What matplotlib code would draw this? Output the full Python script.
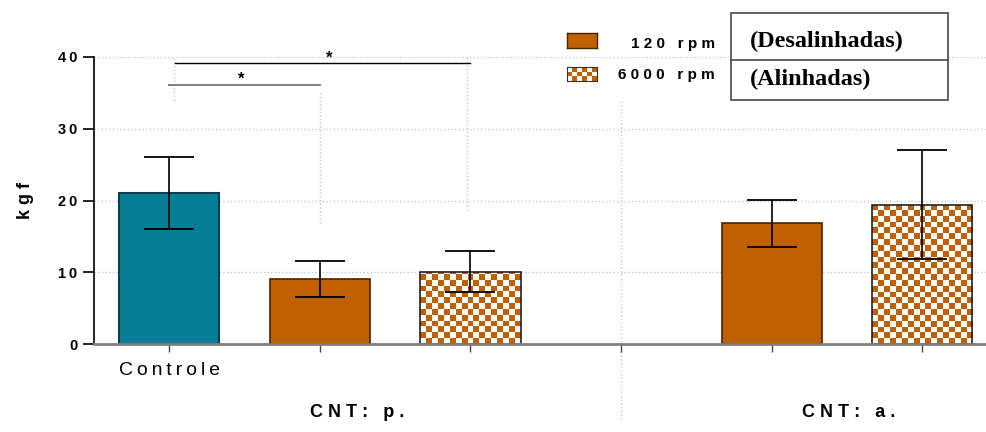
import numpy as np
import matplotlib
matplotlib.use("Agg")
import matplotlib.pyplot as plt
from matplotlib.colors import ListedColormap
from matplotlib.patches import Rectangle
from matplotlib.transforms import blended_transform_factory

# data
positions = [0, 1, 2, 4, 5]
means = [21.0, 9.1, 10.1, 16.8, 19.4]
errors = [5.0, 2.5, 2.9, 3.3, 7.6]
kinds = ["controle", "120", "6000", "120", "6000"]
tick_positions = [0, 1, 2, 3, 4, 5]
tick_labels = ["Controle", "", "", "", "", ""]
yticks = [0, 10, 20, 30, 40]
group_labels = ["CNT: p.", "CNT: a."]
group_pos = [1.25, 4.51]
# (from bar, to bar, height, star x)
brackets = [(0, 1, 36.1, 0.48), (0, 2, 39.1, 1.06)]
legend_labels = ["120 rpm", "6000 rpm"]
box_labels = ["(Desalinhadas)", "(Alinhadas)"]

teal = "#087d96"
teal_edge = "#0b3f4c"
orange = "#c06000"
orange_edge = "#4a2300"
grid_col = "#c8c8c8"

W, H = 987, 432


def spaced(s, sep=" "):
    return sep.join(s)


def fx(px):
    return px / W


def fy(py):
    return 1 - py / H


plt.rcParams["font.family"] = ["Liberation Sans", "DejaVu Sans"]

fig = plt.figure(figsize=(W / 100, H / 100), dpi=100)
ax = fig.add_axes([fx(94), fy(344), fx(987 - 94), (344 - 57) / H])
ax.set_xlim(-0.5, 5.43)
ax.set_ylim(0, 40)

checker_cmap = ListedColormap(["white", orange])
cell_px = 5.8

bars = ax.bar(positions, means, width=0.665, zorder=2)
fig.canvas.draw()
for bar, kind in zip(bars, kinds):
    if kind == "controle":
        bar.set_facecolor(teal)
        bar.set_edgecolor(teal_edge)
        bar.set_linewidth(1.5)
    elif kind == "120":
        bar.set_facecolor(orange)
        bar.set_edgecolor(orange_edge)
        bar.set_linewidth(1.2)
    else:
        bar.set_facecolor("none")
        bar.set_edgecolor("#222222")
        bar.set_linewidth(1.2)
        x0, y0 = bar.get_x(), bar.get_y()
        x1, y1 = x0 + bar.get_width(), y0 + bar.get_height()
        (p0x, p0y), (p1x, p1y) = ax.transData.transform([(x0, y0), (x1, y1)])
        nx = int(round((p1x - p0x) / cell_px))
        ny = int(round((p1y - p0y) / cell_px)) + 1
        yy, xx = np.mgrid[0:ny, 0:nx]
        board = (xx + yy) % 2
        top = y0 + ny * cell_px * (y1 - y0) / (p1y - p0y)
        im = ax.imshow(board, cmap=checker_cmap, extent=(x0, x1, top, y0),
                       interpolation="nearest", aspect="auto", zorder=1.9,
                       origin="upper")
        im.set_clip_path(bar)

ax.set_xlim(-0.5, 5.43)
ax.set_ylim(0, 40)

ax.errorbar(positions, means, yerr=errors, fmt="none", ecolor="black",
            elinewidth=1.2, capsize=18, capthick=1.3, zorder=3)

# grid
ax.yaxis.grid(True, linestyle=":", color=grid_col, linewidth=1, zorder=0)
ax.set_axisbelow(True)
ax.plot([3, 3], [-10.5, 34], linestyle=":", color=grid_col, lw=1,
        clip_on=False, zorder=0)
for xv, ya, yb in [(0.03, 34, 40), (1.0, 16.8, 35.2), (1.98, 18.7, 40)]:
    ax.plot([xv, xv], [ya, yb], linestyle=":", color=grid_col, lw=1, zorder=0)

# significance brackets
for (a, b, h, sx), col, lw in zip(brackets, ["#808080", "black"], [1.4, 1.0]):
    ax.plot([a + (0.04 if b == 2 else 0.0), b], [h, h], color=col, lw=lw,
            zorder=3, clip_on=False)
    ax.text(sx, h + 0.75, "*", ha="center", va="center", fontsize=12,
            fontweight="bold")

# axes styling
for s in ["top", "right"]:
    ax.spines[s].set_visible(False)
ax.spines["left"].set_color("black")
ax.spines["left"].set_linewidth(1.2)
ax.spines["bottom"].set_color("#808080")
ax.spines["bottom"].set_linewidth(2)

ax.set_yticks(yticks)
ax.set_yticklabels([spaced(str(v), "\u2009") for v in yticks],
                   fontsize=10.5, fontweight="bold")
ax.tick_params(axis="y", length=8, width=1.2, color="black", pad=4)
ax.set_xticks(tick_positions)
ax.set_xticklabels([spaced(t, "\u2009") for t in tick_labels], fontsize=14)
ax.tick_params(axis="x", length=6, width=1, color="#444444", pad=7)

ax.set_ylabel(spaced("kgf"), fontsize=13, fontweight="bold")
ax.yaxis.set_label_coords(-0.067, 0.5)

trans = blended_transform_factory(ax.transData, ax.transAxes)
for lab, xp in zip(group_labels, group_pos):
    ax.text(xp, -0.24, spaced(lab), transform=trans, ha="center",
            va="center", fontsize=13, fontweight="bold")

# legend swatches
sw = fig.add_axes([fx(567), fy(48), fx(30), 15 / H])
sw.set_xticks([])
sw.set_yticks([])
sw.set_facecolor(orange)
for s in sw.spines.values():
    s.set_color(orange_edge)
    s.set_linewidth(1)
sw2 = fig.add_axes([fx(567), fy(81), fx(30), 14 / H])
yy, xx = np.mgrid[0:3, 0:6]
sw2.imshow((xx + yy) % 2, cmap=checker_cmap, aspect="auto",
           interpolation="nearest")
sw2.set_xticks([])
sw2.set_yticks([])
for s in sw2.spines.values():
    s.set_color("#333333")
    s.set_linewidth(0.8)

for lab, yc in zip(legend_labels, [44, 75]):
    fig.text(fx(715), fy(yc), spaced(lab), ha="right", va="center",
             fontsize=11, fontweight="bold")

# box with alignment labels
fig.add_artist(Rectangle((fx(731), fy(100)), fx(948 - 731), (100 - 13) / H,
                         transform=fig.transFigure, facecolor="white",
                         edgecolor="#555555", lw=1.3))
fig.add_artist(plt.Line2D([fx(731), fx(948)], [fy(60), fy(60)],
                          transform=fig.transFigure, color="#555555", lw=1.3))
for lab, yc in zip(box_labels, [41, 79]):
    fig.text(fx(750), fy(yc), lab, ha="left", va="center", fontsize=17.5,
             fontweight="bold", family=["Liberation Serif", "DejaVu Serif"])

fig.savefig("out.png", dpi=100)
